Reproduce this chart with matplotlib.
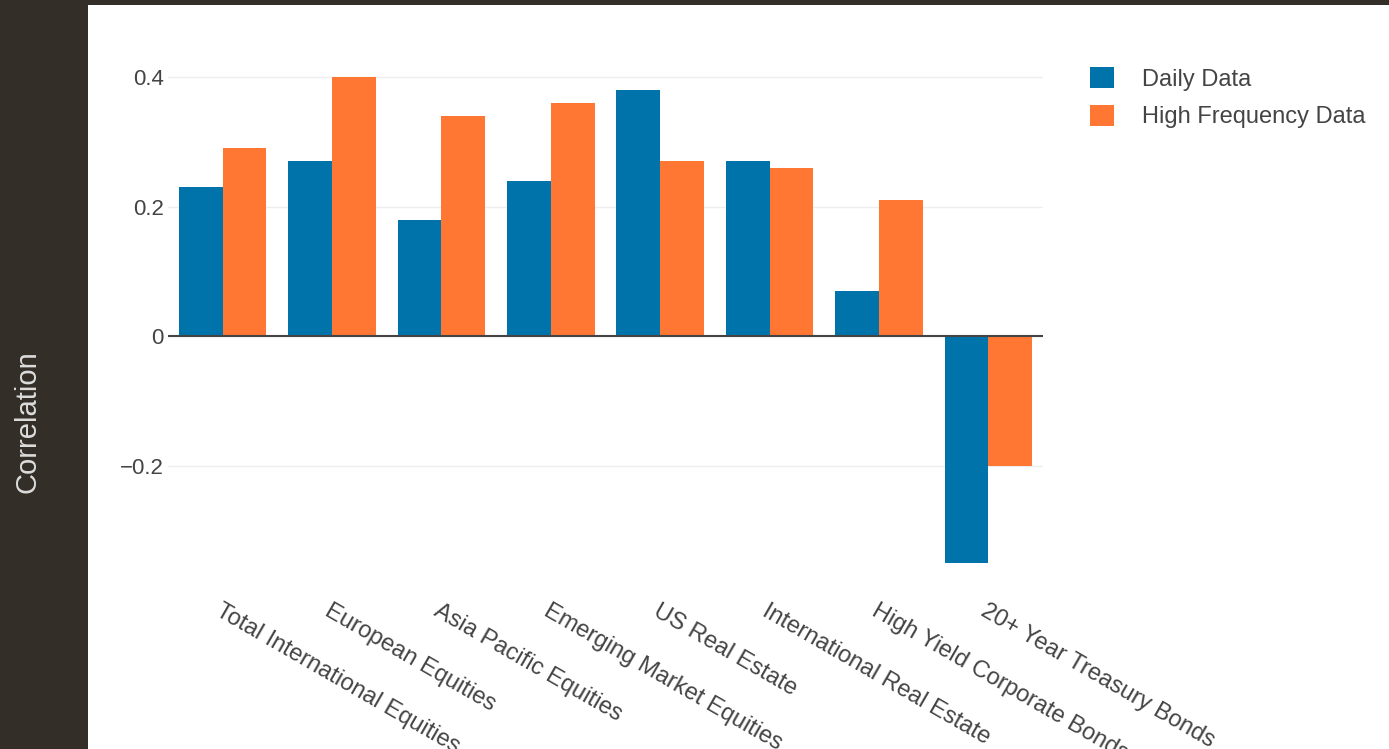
import numpy as np
import matplotlib.pyplot as plt
from matplotlib.patches import Rectangle

categories = ["Total International Equities", "European Equities", "Asia Pacific Equities",
              "Emerging Market Equities", "US Real Estate", "International Real Estate",
              "High Yield Corporate Bonds", "20+ Year Treasury Bonds"]
daily = [0.23, 0.27, 0.18, 0.24, 0.38, 0.27, 0.07, -0.35]
high_freq = [0.29, 0.40, 0.34, 0.36, 0.27, 0.26, 0.21, -0.20]
yticks = [-0.2, 0, 0.2, 0.4]
ytick_labels = ["\u22120.2", "0", "0.2", "0.4"]

plt.rcParams["font.family"] = ["Liberation Sans", "DejaVu Sans"]

W, H = 1389, 749
fig = plt.figure(figsize=(W / 100, H / 100), dpi=100, facecolor="#332e28")
# white panel, dark strip left + top
fig.patches.append(Rectangle((88 / W, 0), 1 - 88 / W, 1 - 5 / H, transform=fig.transFigure,
                             facecolor="white", edgecolor="none", zorder=-10))

ax = fig.add_axes([168 / W, 1 - 579 / H, 875 / W, 518 / H])
ax.set_facecolor("none")

x = np.arange(len(categories))
bw = 0.4
ax.bar(x - bw / 2, daily, bw, color="#0074aa", label="Daily Data", zorder=2)
ax.bar(x + bw / 2, high_freq, bw, color="#ff7733", label="High Frequency Data", zorder=2)

ax.set_xlim(-0.5, len(categories) - 0.5)
ax.set_ylim(-0.375, 0.425)
ax.axhline(0, color="#444444", lw=1.5, zorder=3)
ax.set_yticks(yticks)
ax.set_yticklabels(ytick_labels)
ax.grid(axis="y", color="#eeeeee", lw=1, zorder=0)
ax.tick_params(axis="y", length=0, pad=3, labelsize=16, labelcolor="#444444")
ax.set_xticks(x)
ax.set_xticklabels(categories, rotation=-30, ha="left", rotation_mode="anchor",
                   fontsize=17, color="#444444")
ax.tick_params(axis="x", length=0, pad=15)
for lbl in ax.get_xticklabels():
    lbl.set_x(lbl.get_position()[0])
for s in ax.spines.values():
    s.set_visible(False)

fig.text(28 / W, 1 - 422 / H, "Correlation", rotation=90, ha="center", va="center",
         fontsize=21, color="#dddddd")

fig.legend(loc="upper left", bbox_to_anchor=(1090 / W, 1 - 67 / H), frameon=False,
           fontsize=17, handlelength=1.0, handleheight=1.0, handletextpad=1.2,
           labelspacing=0.6, borderpad=0, borderaxespad=0, labelcolor="#444444")

fig.savefig("out.png", dpi=100, facecolor=fig.get_facecolor())
